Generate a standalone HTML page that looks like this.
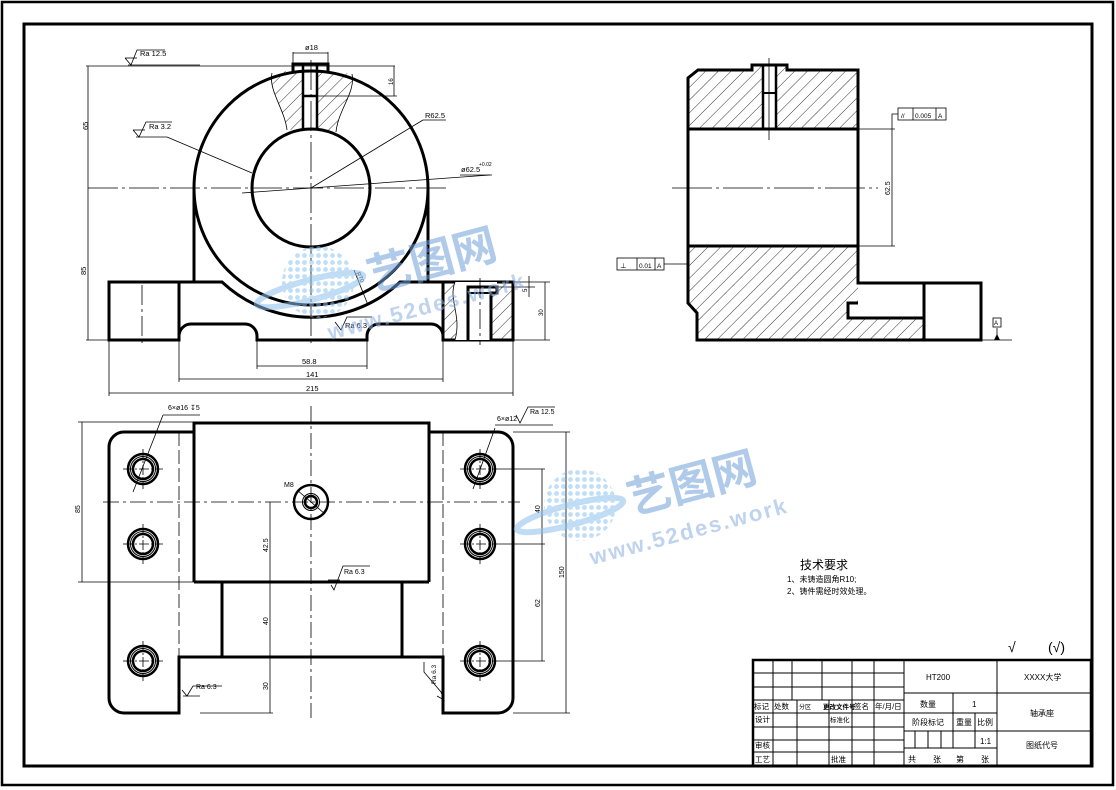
<!DOCTYPE html>
<html><head><meta charset="utf-8"><style>
html,body{margin:0;padding:0;background:#fff}
svg{display:block}
text{font-family:"Liberation Sans","Noto Sans CJK SC",sans-serif;fill:#000}
</style></head><body>
<svg width="1116" height="790" viewBox="0 0 1116 790" xmlns="http://www.w3.org/2000/svg">
<defs>
<pattern id="h" patternUnits="userSpaceOnUse" width="9" height="9" patternTransform="rotate(45)">
<line x1="0" y1="0" x2="0" y2="9" stroke="#000" stroke-width="0.8"/>
</pattern>
<pattern id="dots" patternUnits="userSpaceOnUse" width="7" height="7">
<circle cx="3.5" cy="3.5" r="2.4" fill="#8cc4f0"/>
</pattern>
</defs>
<rect x="2" y="2" width="1111" height="783" fill="none" stroke="#000" stroke-width="2.5"/>
<rect x="24" y="24" width="1068" height="742" fill="none" stroke="#000" stroke-width="3"/>

<!-- FRONT VIEW -->
<g fill="none" stroke="#000">
<path d="M293,70 L272,73 C268,90 285,110 287,130 L303,129 L303,70 Z" fill="url(#h)" stroke="none"/>
<path d="M317,70 L317,129 L336,132 C338,110 356,92 352,74 Z" fill="url(#h)" stroke="none"/>
<path d="M272,73 C268,90 285,110 287,130" stroke-width="0.8"/>
<path d="M352,74 C356,92 338,110 336,132" stroke-width="0.8"/>
<circle cx="311" cy="188" r="117" stroke-width="3"/>
<circle cx="311" cy="188" r="59" stroke-width="3"/>
<path d="M293,72 L293,64 L328,64 L328,72" stroke-width="3"/>
<line x1="303" y1="64" x2="303" y2="129" stroke-width="2.5"/>
<line x1="317" y1="64" x2="317" y2="129" stroke-width="2.5"/>
<line x1="303" y1="96" x2="317" y2="96" stroke-width="2.5"/>
<line x1="194" y1="188" x2="194" y2="282" stroke-width="3"/>
<line x1="428" y1="188" x2="428" y2="282" stroke-width="3"/>
<path d="M109,282 L222,282 A130,130 0 0 0 400,282 L513,282 L513,340 L443,340 L443,336 A12,12 0 0 0 431,324 L379,324 A12,12 0 0 0 367,336 L367,340 L257,340 L257,336 A12,12 0 0 0 245,324 L191,324 A12,12 0 0 0 179,336 L179,340 L109,340 Z" stroke-width="3"/>
<line x1="179" y1="282" x2="179" y2="340" stroke-width="3"/>
<rect x="443" y="282" width="70" height="58" fill="url(#h)" stroke="none"/>
<path d="M455,282 C448,300 462,315 455,340 L468,340 L468,293 L497,293 L497,282 Z" fill="#fff" stroke="none"/>
<rect x="468" y="293" width="23" height="47" fill="#fff" stroke="none"/>
<path d="M455,282 C448,300 462,315 455,340" stroke-width="0.8"/>
<line x1="443" y1="282" x2="443" y2="340" stroke-width="3"/>
<path d="M468,340 L468,287 L497,287 L497,293 L491,293 L491,340" stroke-width="3"/>
<path d="M468,293 L491,293" stroke-width="2"/>
</g>
<g stroke="#000" stroke-width="0.8" fill="none">
<line x1="88" y1="188" x2="450" y2="188" stroke-dasharray="30,4,3,4"/>
<line x1="311" y1="60" x2="311" y2="345" stroke-dasharray="30,4,3,4"/>
<line x1="142" y1="285" x2="142" y2="345" stroke-dasharray="20,4,3,4"/>
<line x1="480" y1="278" x2="480" y2="345" stroke-dasharray="20,4,3,4"/>
<line x1="86" y1="66" x2="395" y2="66"/>
<line x1="86" y1="340" x2="109" y2="340"/>
<line x1="88" y1="66" x2="88" y2="340"/>
<line x1="293" y1="52" x2="293" y2="64"/><line x1="328" y1="52" x2="328" y2="64"/>
<line x1="293" y1="53" x2="328" y2="53"/>
<line x1="317" y1="96" x2="397" y2="96"/><line x1="394" y1="66" x2="394" y2="96"/>
<line x1="109" y1="340" x2="109" y2="396"/><line x1="513" y1="340" x2="513" y2="396"/>
<line x1="179" y1="340" x2="179" y2="382"/><line x1="443" y1="340" x2="443" y2="382"/>
<line x1="257" y1="340" x2="257" y2="369"/><line x1="367" y1="340" x2="367" y2="369"/>
<line x1="257" y1="366" x2="367" y2="366"/>
<line x1="179" y1="379" x2="443" y2="379"/>
<line x1="109" y1="393" x2="513" y2="393"/>
<line x1="513" y1="282" x2="550" y2="282"/><line x1="497" y1="287" x2="535" y2="287"/>
<line x1="513" y1="340" x2="550" y2="340"/>
<line x1="545" y1="282" x2="545" y2="340"/>
<line x1="529" y1="276" x2="529" y2="297"/>
<line x1="311" y1="188" x2="423" y2="120"/><line x1="423" y1="120" x2="446" y2="120"/>
<line x1="242" y1="193" x2="490" y2="175"/><line x1="460" y1="175" x2="492" y2="175"/>
<line x1="167" y1="137" x2="252" y2="173"/><line x1="136" y1="137" x2="167" y2="137"/>
<line x1="354" y1="270" x2="368" y2="305"/>
<line x1="128" y1="65" x2="200" y2="65"/>
</g>
<g font-size="7.5">
<text x="305" y="50">ø18</text>
<text x="425" y="118">R62.5</text>
<text x="461" y="172">ø62.5</text><text x="479" y="166" font-size="5">+0.02</text>
<text x="302" y="364">58.8</text>
<text x="306" y="377">141</text>
<text x="306" y="391">215</text>
<text x="88" y="130" transform="rotate(-90 88 130)">65</text>
<text x="86" y="275" transform="rotate(-90 86 275)">85</text>
<text x="393" y="85" transform="rotate(-90 393 85)" font-size="6">16</text>
<text x="527" y="292" transform="rotate(-90 527 292)" font-size="6">5</text>
<text x="543" y="316" transform="rotate(-90 543 316)" font-size="6">30</text>
<text x="356" y="273" transform="rotate(65 356 273)" font-size="6">R70</text>
<text x="140" y="56">Ra 12.5</text>
<text x="149" y="129">Ra 3.2</text>
<text x="345" y="328">Ra 6.3</text>
</g>
<g stroke="#000" stroke-width="0.8" fill="none">
<path d="M125,58 L131,65 L137,50 L165,50"/><path d="M125,58 L137,58"/>
<path d="M133,130 L139,137 L146,122 L172,122"/><path d="M133,130 L145,130"/>
<path d="M335,322 L341,330 L347,317 L372,317"/>
</g>

<!-- SIDE VIEW -->
<g fill="none" stroke="#000">
<path d="M698,70 L752,70 L752,65 L787,65 L787,70 L858,70 L858,129 L688,129 L688,78 Z" fill="url(#h)" stroke="none"/>
<rect x="763" y="65" width="13" height="64" fill="#fff" stroke="none"/>
<path d="M688,246 L858,246 L858,303 L848,303 L848,318 L924,318 L924,340 L697,340 L697,313 L688,303 Z" fill="url(#h)" stroke="none"/>
<path d="M698,70 L752,70 L752,65 L787,65 L787,70 L858,70 L858,283 L981,283 L981,340 L697,340 L697,313 L688,303 L688,78 Z" stroke-width="3"/>
<line x1="688" y1="129" x2="858" y2="129" stroke-width="3"/>
<line x1="688" y1="246" x2="858" y2="246" stroke-width="3"/>
<line x1="763" y1="65" x2="763" y2="129" stroke-width="2.5"/>
<line x1="776" y1="65" x2="776" y2="129" stroke-width="2.5"/>
<line x1="763" y1="93" x2="776" y2="93" stroke-width="2"/>
<path d="M858,303 L848,303 L848,318 L924,318" stroke-width="3"/>
<line x1="924" y1="283" x2="924" y2="340" stroke-width="3"/>
</g>
<g stroke="#000" stroke-width="0.8" fill="none">
<line x1="672" y1="188" x2="878" y2="188" stroke-dasharray="40,4,3,4"/>
<line x1="769" y1="58" x2="769" y2="140"/>
<line x1="858" y1="129" x2="895" y2="129"/><line x1="858" y1="246" x2="895" y2="246"/>
<line x1="892" y1="129" x2="892" y2="246"/>
<path d="M892,129 L892,114 L898,114"/>
<line x1="664" y1="264" x2="688" y2="264"/>
<line x1="981" y1="340" x2="1012" y2="340"/>
<line x1="997" y1="328" x2="997" y2="340"/>
<rect x="898" y="108" width="48" height="12"/><line x1="913" y1="108" x2="913" y2="120"/><line x1="936" y1="108" x2="936" y2="120"/>
<rect x="617" y="258" width="47" height="12"/><line x1="637" y1="258" x2="637" y2="270"/><line x1="655" y1="258" x2="655" y2="270"/>
<rect x="993" y="318" width="8" height="9"/>
</g>
<path d="M994,340 L997,334 L1000,340 Z" fill="#000"/>
<g font-size="6.5">
<text x="901" y="118">//</text><text x="915" y="118">0.005</text><text x="938" y="118">A</text>
<text x="620" y="268">⊥</text><text x="639" y="268">0.01</text><text x="657" y="268">A</text>
<text x="994" y="325" font-size="6">A</text>
<text x="890" y="195" transform="rotate(-90 890 195)" font-size="7">62.5</text>
</g>

<!-- TOP VIEW -->
<g fill="none" stroke="#000">
<path d="M124,432 L194,432 L194,423 L429,423 L429,432 L498,432 A15,15 0 0 1 513,447 L513,698 A15,15 0 0 1 498,713 L443,713 L443,657 L179,657 L179,713 L124,713 A15,15 0 0 1 109,698 L109,447 A15,15 0 0 1 124,432 Z" stroke-width="3"/>
<line x1="194" y1="432" x2="194" y2="582" stroke-width="3"/>
<line x1="429" y1="432" x2="429" y2="582" stroke-width="3"/>
<line x1="194" y1="582" x2="429" y2="582" stroke-width="3"/>
<line x1="222" y1="582" x2="222" y2="657" stroke-width="3"/>
<line x1="402" y1="582" x2="402" y2="657" stroke-width="3"/>
<g stroke-width="2.5">
<circle cx="143" cy="469" r="15"/><circle cx="143" cy="469" r="10"/>
<circle cx="143" cy="544" r="15"/><circle cx="143" cy="544" r="10"/>
<circle cx="143" cy="661" r="15"/><circle cx="143" cy="661" r="10"/>
<circle cx="480" cy="469" r="15"/><circle cx="480" cy="469" r="10"/>
<circle cx="480" cy="544" r="15"/><circle cx="480" cy="544" r="10"/>
<circle cx="480" cy="661" r="15"/><circle cx="480" cy="661" r="10"/>
<circle cx="311" cy="502" r="17"/><circle cx="311" cy="502" r="6"/>
</g>
<g stroke-width="1">
<circle cx="143" cy="469" r="12.5"/><circle cx="143" cy="544" r="12.5"/><circle cx="143" cy="661" r="12.5"/>
<circle cx="480" cy="469" r="12.5"/><circle cx="480" cy="544" r="12.5"/><circle cx="480" cy="661" r="12.5"/>
<circle cx="311" cy="502" r="8.5"/>
</g>
</g>
<g stroke="#000" stroke-width="0.8" fill="none">
<line x1="103" y1="502" x2="520" y2="502" stroke-dasharray="16,4,3,4"/>
<line x1="311" y1="406" x2="311" y2="718" stroke-dasharray="16,4,3,4"/>
<line x1="179" y1="432" x2="179" y2="657" stroke-dasharray="14,4"/>
<line x1="443" y1="432" x2="443" y2="657" stroke-dasharray="14,4"/>
<g stroke-dasharray="10,2,2,2">
<line x1="123" y1="469" x2="163" y2="469"/><line x1="143" y1="449" x2="143" y2="489"/>
<line x1="123" y1="544" x2="163" y2="544"/><line x1="143" y1="524" x2="143" y2="564"/>
<line x1="123" y1="661" x2="163" y2="661"/><line x1="143" y1="641" x2="143" y2="681"/>
<line x1="460" y1="469" x2="500" y2="469"/><line x1="480" y1="449" x2="480" y2="489"/>
<line x1="460" y1="544" x2="500" y2="544"/><line x1="480" y1="524" x2="480" y2="564"/>
<line x1="460" y1="661" x2="500" y2="661"/><line x1="480" y1="641" x2="480" y2="681"/>
</g>
<line x1="78" y1="422" x2="194" y2="422"/><line x1="78" y1="582" x2="194" y2="582"/>
<line x1="82" y1="422" x2="82" y2="582"/>
<line x1="270" y1="502" x2="270" y2="713"/>
<line x1="200" y1="713" x2="273" y2="713"/>
<line x1="513" y1="432" x2="570" y2="432"/><line x1="513" y1="713" x2="570" y2="713"/>
<line x1="566" y1="432" x2="566" y2="713"/>
<line x1="500" y1="469" x2="545" y2="469"/><line x1="500" y1="544" x2="545" y2="544"/><line x1="500" y1="661" x2="545" y2="661"/>
<line x1="542" y1="469" x2="542" y2="661"/>
<line x1="133" y1="492" x2="163" y2="415"/><line x1="163" y1="415" x2="200" y2="415"/>
<line x1="473" y1="489" x2="495" y2="428"/><line x1="495" y1="425" x2="553" y2="425"/>
<line x1="297" y1="490" x2="325" y2="514"/>
<path d="M331,585 L334,590 L343,566 L370,566"/><path d="M328,580 L340,580"/>
<path d="M182,690 L187,696 L193,686 L222,686"/><path d="M183,696 L200,696"/><path d="M180,700 L180,712"/>
<path d="M437,696 L444,700 L441,692 L424,672 L424,662"/>
<path d="M516,415 L520,423 L528,407 L555,407"/>
</g>
<g font-size="7">
<text x="168" y="410">6×ø16</text><text x="190" y="410">↧5</text>
<text x="497" y="421">6×ø12</text>
<text x="530" y="414">Ra 12.5</text>
<text x="284" y="487">M8</text>
<text x="344" y="574">Ra 6.3</text>
<text x="196" y="689">Ra 6.3</text>
<text x="80" y="513" transform="rotate(-90 80 513)">85</text>
<text x="268" y="552" transform="rotate(-90 268 552)">42.5</text>
<text x="268" y="625" transform="rotate(-90 268 625)">40</text>
<text x="268" y="690" transform="rotate(-90 268 690)">30</text>
<text x="564" y="578" transform="rotate(-90 564 578)">150</text>
<text x="540" y="513" transform="rotate(-90 540 513)">40</text>
<text x="540" y="607" transform="rotate(-90 540 607)">62</text>
<text x="436" y="684" transform="rotate(-90 436 684)" font-size="6.5">Ra 6.3</text>
</g>

<text x="800" y="569" font-size="12">技术要求</text>
<text x="787" y="582" font-size="8">1、未铸造圆角R10;</text>
<text x="787" y="594" font-size="8">2、铸件需经时效处理。</text>
<text x="1008" y="652" font-size="14">√</text>
<text x="1048" y="652" font-size="14">(√)</text>

<!-- TITLE BLOCK -->
<g stroke="#000" fill="none">
<rect x="753" y="660" width="338" height="106" stroke-width="2.5"/>
<g stroke-width="1">
<line x1="753" y1="673" x2="904" y2="673"/>
<line x1="753" y1="687" x2="904" y2="687"/>
<line x1="753" y1="700" x2="904" y2="700"/>
<line x1="753" y1="713" x2="904" y2="713"/>
<line x1="753" y1="727" x2="904" y2="727"/>
<line x1="753" y1="740" x2="904" y2="740"/>
<line x1="753" y1="752" x2="904" y2="752"/>
<line x1="773" y1="660" x2="773" y2="766"/>
<line x1="792" y1="660" x2="792" y2="700"/>
<line x1="797" y1="700" x2="797" y2="766"/>
<line x1="822" y1="660" x2="822" y2="700"/>
<line x1="829" y1="700" x2="829" y2="766"/>
<line x1="852" y1="660" x2="852" y2="766"/>
<line x1="874" y1="660" x2="874" y2="766"/>
<line x1="904" y1="660" x2="904" y2="766"/>
<line x1="997" y1="660" x2="997" y2="766"/>
<line x1="904" y1="693" x2="1091" y2="693"/>
<line x1="904" y1="713" x2="997" y2="713"/>
<line x1="904" y1="731" x2="1091" y2="731"/>
<line x1="904" y1="748" x2="997" y2="748"/>
<line x1="953" y1="693" x2="953" y2="748"/>
<line x1="975" y1="713" x2="975" y2="748"/>
<line x1="915" y1="731" x2="915" y2="748"/>
<line x1="928" y1="731" x2="928" y2="748"/>
<line x1="941" y1="731" x2="941" y2="748"/>
</g>
</g>
<g font-size="8" fill="#333">
<text x="926" y="680">HT200</text>
<text x="1024" y="680">XXXX大学</text>
<text x="920" y="707">数量</text><text x="972" y="707">1</text>
<text x="1030" y="716">轴承座</text>
<text x="912" y="725">阶段标记</text><text x="956" y="725">重量</text><text x="977" y="725">比例</text>
<text x="980" y="744">1:1</text>
<text x="1026" y="748">图纸代号</text>
<text x="908" y="762">共</text><text x="933" y="762">张</text><text x="956" y="762">第</text><text x="981" y="762">张</text>
<text x="754" y="709" font-size="7.5">标记</text><text x="774" y="709" font-size="7.5" fill="#000">处数</text>
<text x="799" y="709" font-size="6">分区</text>
<text x="823" y="709" font-size="6.5" fill="#000" font-weight="bold">更改文件号</text>
<text x="854" y="709" font-size="7.5">签名</text><text x="875" y="709" font-size="7.5">年/月/日</text>
<text x="755" y="722" font-size="7.5">设计</text>
<text x="830" y="722" font-size="6.5">标准化</text>
<text x="755" y="748" font-size="7.5">审核</text>
<text x="755" y="762" font-size="7.5">工艺</text>
<text x="831" y="762" font-size="7.5">批准</text>
</g>

<!-- watermarks -->
<g opacity="0.55" fill="#6f9fd8">
<ellipse cx="310" cy="290" rx="55" ry="10" transform="rotate(-15 310 290)" fill="none" stroke="#8cc0ec" stroke-width="6"/>
<circle cx="318" cy="282" r="36" fill="url(#dots)"/>
<text x="372" y="292" font-size="44" font-weight="bold" transform="rotate(-15 372 292)" style="fill:#6f9fd8">艺图网</text>
<text x="330" y="340" font-size="22" font-weight="bold" transform="rotate(-15 330 340)" style="fill:#8ab0e0" letter-spacing="2">www.52des.work</text>
<ellipse cx="570" cy="515" rx="55" ry="10" transform="rotate(-15 570 515)" fill="none" stroke="#8cc0ec" stroke-width="6"/>
<circle cx="580" cy="505" r="36" fill="url(#dots)"/>
<text x="632" y="515" font-size="44" font-weight="bold" transform="rotate(-15 632 515)" style="fill:#6f9fd8">艺图网</text>
<text x="592" y="565" font-size="22" font-weight="bold" transform="rotate(-15 592 565)" style="fill:#8ab0e0" letter-spacing="2">www.52des.work</text>
</g>
</svg>
</body></html>
